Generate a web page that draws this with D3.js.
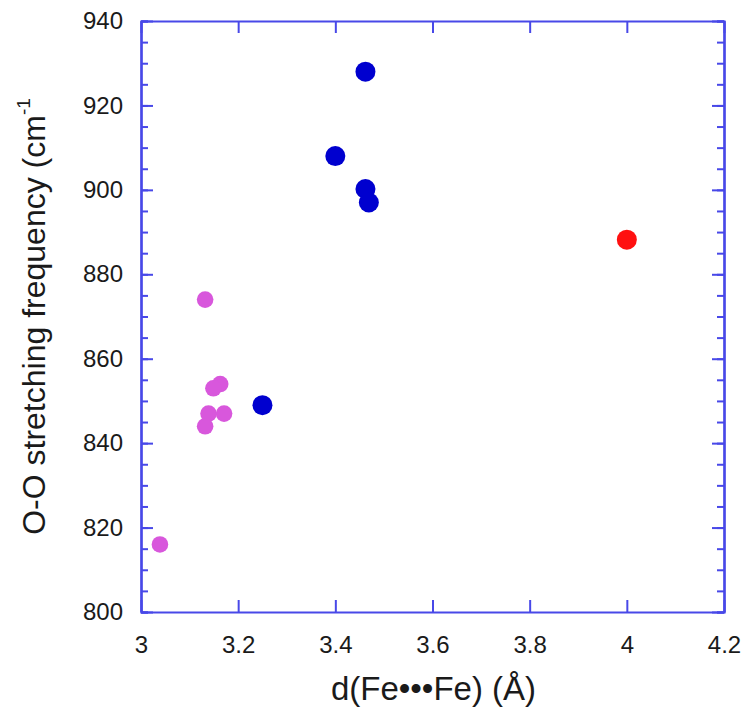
<!DOCTYPE html>
<html>
<head>
<meta charset="utf-8">
<script src="https://cdn.jsdelivr.net/npm/d3@7"></script>
<style>
  body { margin: 0; background: #fff; }
  text { font-family: "Liberation Sans", Arial, sans-serif; }
</style>
</head>
<body>
<div class="graph"></div>
<script>
// data
const blueX = [3.462, 3.40, 3.462, 3.469, 3.25];
const blueY = [928, 908, 900.2, 897, 849];
const pinkX = [3.132, 3.163, 3.149, 3.139, 3.171, 3.132, 3.039];
const pinkY = [874, 854, 853, 847, 847, 844, 816];
const redX = [4.0];
const redY = [888.2];
const xTicks = [3, 3.2, 3.4, 3.6, 3.8, 4, 4.2];
const yTicks = [800, 820, 840, 860, 880, 900, 920, 940];
const yMinor = d3.range(800, 941, 5);

const width = 750;
const height = 715;
const margin = { top: 21, bottom: 103, left: 141, right: 26 };
const axisColor = '#4848e8';

const svg = d3.select('.graph')
.append('svg')
.attr('width', width)
.attr('height', height)

const x = d3.scaleLinear()
.domain([3, 4.2])
.range([margin.left, width - margin.right])

const y = d3.scaleLinear()
.domain([800, 940])
.range([height - margin.bottom, margin.top])

const style = g => {
  g.select('.domain').attr('stroke', axisColor).attr('stroke-width', 2.2);
  g.selectAll('.tick line').attr('stroke', axisColor).attr('stroke-width', 2);
  g.selectAll('.tick text').attr('fill', '#1a1a1a').attr('font-size', '24px');
}

// minor ticks on y sides
svg.append('g')
.attr('transform', `translate(${margin.left},0)`)
.call(d3.axisLeft(y).tickValues(yMinor).tickSize(-7).tickFormat(''))
.call(style)

svg.append('g')
.attr('transform', `translate(${width - margin.right},0)`)
.call(d3.axisRight(y).tickValues(yMinor).tickSize(-7).tickFormat(''))
.call(style)

// major axes
svg.append('g')
.attr('transform', `translate(${margin.left},0)`)
.call(d3.axisLeft(y).tickValues(yTicks).tickSize(-12).tickSizeOuter(0).tickPadding(18))
.call(style)

svg.append('g')
.attr('transform', `translate(${width - margin.right},0)`)
.call(d3.axisRight(y).tickValues(yTicks).tickSize(-12).tickSizeOuter(0).tickFormat(''))
.call(style)

svg.append('g')
.attr('transform', `translate(0,${height - margin.bottom})`)
.call(d3.axisBottom(x).tickValues(xTicks).tickSize(-12).tickSizeOuter(0).tickPadding(24).tickFormat(d3.format('')))
.call(style)

svg.append('g')
.attr('transform', `translate(0,${margin.top})`)
.call(d3.axisTop(x).tickValues(xTicks).tickSize(-12).tickSizeOuter(0).tickFormat(''))
.call(style)

// points
const dots = (xs, ys, color, r) => {
  svg.append('g')
  .attr('fill', color)
  .selectAll('circle')
  .data(xs.map((d, i) => [d, ys[i]]))
  .join('circle')
  .attr('cx', d => x(d[0]))
  .attr('cy', d => y(d[1]))
  .attr('r', r)
}

dots(pinkX, pinkY, '#d857dc', 8.3);
dots(blueX, blueY, '#0000cf', 10);
dots(redX, redY, '#ff1010', 10);

// axis titles
svg.append('text')
.attr('x', (margin.left + width - margin.right) / 2 + 1)
.attr('y', 700)
.attr('text-anchor', 'middle')
.attr('font-size', '33px')
.attr('fill', '#1a1a1a')
.text('d(Fe•••Fe) (Å)')

const yLabel = svg.append('text')
.attr('transform', `translate(45,${(margin.top + height - margin.bottom) / 2}) rotate(-90)`)
.attr('text-anchor', 'middle')
.attr('font-size', '32px')
.attr('fill', '#1a1a1a')

yLabel.append('tspan').text('O-O stretching frequency (cm')
yLabel.append('tspan').attr('font-size', '19px').attr('dy', -15).text('-1')
</script>
</body>
</html>
